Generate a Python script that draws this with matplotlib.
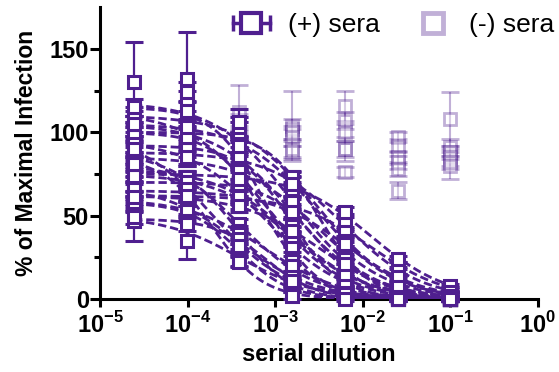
import numpy as np
import matplotlib.pyplot as plt
from matplotlib.lines import Line2D
from matplotlib.legend_handler import HandlerLine2D, HandlerTuple
from matplotlib.ticker import NullLocator

plt.rcParams['font.family'] = 'Liberation Sans'
plt.rcParams['mathtext.fontset'] = 'custom'
plt.rcParams['mathtext.rm'] = 'Liberation Sans:bold'
plt.rcParams['mathtext.bf'] = 'Liberation Sans:bold'

purple = '#4f1f8f'

# 4-fold serial dilutions
dilution = [1/40960, 1/10240, 1/2560, 1/640, 1/160, 1/40, 1/10]

# (+) sera: fitted curve parameters (top, log IC50, hill)
pos_top = [110, 88, 62, 75, 100, 105, 92, 85, 78, 70, 112, 100, 90, 80,
           68, 58, 50, 60, 48, 118, 115, 105, 95, 75, 65, 62, 100, 85]
pos_logic50 = [-2.51, -2.20, -1.90, -1.90, -2.51, -2.81, -2.81, -2.51, -2.81, -2.51,
               -3.11, -3.11, -3.41, -3.41, -3.41, -3.41, -3.41, -3.11, -3.11, -2.81,
               -3.11, -2.51, -3.11, -2.81, -2.20, -2.51, -3.71, -3.71]
pos_hill = [1, 1, 1, 1, 1.5, 1, 1.5, 1, 1, 1.5, 1, 1.5, 1, 1.5,
            1, 1.5, 1, 1, 1.5, 1, 1.5, 1, 1, 1, 1, 1, 1, 1.5]

# (+) sera: mean % infection at each dilution
pos_vals = [
    [110, 119, 100, 72, 38, 12, 3],
    [90, 85, 84, 70, 46, 17, 5],
    [60, 64, 58, 56, 40, 20, 6],
    [76, 73, 74, 66, 52, 24, 8],
    [101, 98, 103, 73, 27, 4, 1],
    [104, 101, 83, 53, 20, 6, 2],
    [93, 90, 82, 44, 11, 1, 0],
    [83, 84, 76, 57, 29, 10, 3],
    [78, 72, 63, 40, 15, 5, 1],
    [69, 71, 66, 51, 18, 3, 0],
    [108, 124, 77, 36, 13, 3, 1],
    [98, 97, 72, 27, 4, 1, 0],
    [86, 73, 45, 18, 5, 2, 0],
    [80, 70, 41, 9, 1, 0, 0],
    [65, 55, 33, 14, 4, 1, 0],
    [56, 52, 30, 6, 1, 0, 0],
    [47, 35, 23, 10, 3, 1, 0],
    [58, 54, 39, 20, 7, 2, 0],
    [49, 45, 36, 13, 2, 0, 0],
    [130, 113, 106, 58, 24, 7, 2],
    [115, 132, 86, 30, 5, 1, 0],
    [105, 103, 92, 69, 35, 12, 3],
    [93, 85, 62, 32, 11, 3, 1],
    [74, 70, 61, 38, 15, 4, 1],
    [66, 63, 61, 52, 33, 13, 4],
    [61, 60, 56, 41, 21, 7, 2],
    [90, 66, 32, 11, 3, 1, 0],
    [81, 62, 22, 2, 0, 0, 0],
]
pos_sd = [
    [5, 6, 6, 4, 4, 2, 1],
    [4, 5, 4, 4, 5, 2, 1],
    [4, 4, 4, 4, 3, 2, 1],
    [5, 4, 5, 4, 3, 2, 1],
    [5, 5, 6, 4, 3, 1, 1],
    [6, 5, 5, 4, 3, 1, 1],
    [5, 5, 4, 4, 3, 1, 1],
    [4, 4, 4, 4, 3, 2, 1],
    [4, 4, 4, 3, 3, 1, 1],
    [4, 4, 4, 3, 3, 1, 1],
    [5, 6, 5, 4, 3, 1, 1],
    [5, 5, 4, 4, 2, 1, 1],
    [5, 4, 3, 3, 2, 1, 1],
    [4, 4, 3, 3, 1, 1, 1],
    [4, 4, 3, 3, 2, 1, 1],
    [4, 4, 3, 2, 1, 1, 1],
    [12, 11, 3, 3, 2, 1, 1],
    [4, 4, 3, 3, 2, 1, 1],
    [4, 4, 3, 3, 1, 1, 1],
    [24, 6, 8, 4, 3, 1, 1],
    [5, 28, 5, 4, 2, 1, 1],
    [5, 5, 5, 4, 3, 2, 1],
    [5, 4, 4, 4, 3, 1, 1],
    [4, 4, 4, 3, 3, 1, 1],
    [4, 4, 4, 4, 3, 2, 1],
    [4, 4, 4, 3, 3, 1, 1],
    [5, 4, 3, 3, 2, 1, 1],
    [4, 4, 3, 2, 1, 1, 1],
]

# (-) sera: only measured from 1/2560 onwards
neg_dilution = dilution[2:]
neg_vals = [
    [112, 104, 116, 97, 108],
    [106, 102, 107, 92, 91],
    [100, 100, 100, 85, 88],
    [104, 88, 90, 82, 85],
    [98, 97, 90, 78, 82],
    [102, 90, 76, 65, 80],
]
neg_sd = [
    [16, 21, 9, 3, 16],
    [5, 6, 5, 4, 5],
    [4, 4, 5, 4, 4],
    [5, 4, 7, 4, 5],
    [4, 5, 5, 4, 4],
    [4, 5, 3, 5, 8],
]

fig = plt.figure(figsize=(5.59, 3.72), dpi=100)
ax = fig.add_axes([0.179, 0.196, 0.783, 0.785])

for vals, sd in zip(neg_vals, neg_sd):
    ax.errorbar(neg_dilution, vals, yerr=sd, fmt='s', ms=8.5, mfc='white',
                mec=purple, mew=2, ecolor=purple, elinewidth=1.5,
                capsize=6.5, capthick=1.5, alpha=0.35, clip_on=False, zorder=2)

xs = np.logspace(np.log10(dilution[0]), np.log10(dilution[-1]), 200)
for top, lic, h, vals, sd in zip(pos_top, pos_logic50, pos_hill, pos_vals, pos_sd):
    ax.plot(xs, top / (1 + (xs / 10**lic)**h), color=purple, lw=2,
            dashes=(3, 1.4), zorder=3)
    ax.errorbar(dilution, vals, yerr=sd, fmt='s', ms=9, mfc='white',
                mec=purple, mew=2.2, ecolor=purple, elinewidth=1.6,
                capsize=6.5, capthick=1.6, clip_on=False, zorder=4)

ax.set_xscale('log')
ax.set_xlim(1e-5, 1)
ax.set_ylim(0, 175)
ax.set_xticks([1e-5, 1e-4, 1e-3, 1e-2, 1e-1, 1])
ax.set_xticklabels([r'$10^{-5}$', r'$10^{-4}$', r'$10^{-3}$', r'$10^{-2}$',
                    r'$10^{-1}$', r'$10^{0}$'])
ax.xaxis.set_minor_locator(NullLocator())
ax.set_yticks([0, 50, 100, 150])
ax.set_yticks([25, 75, 125], minor=True)

for side in ['top', 'right']:
    ax.spines[side].set_visible(False)
for side in ['left', 'bottom']:
    ax.spines[side].set_linewidth(2.2)

ax.tick_params(axis='both', which='major', width=2.2, length=7, labelsize=17)
ax.tick_params(axis='y', which='major', pad=1)
ax.tick_params(axis='x', which='major', length=6, pad=3)
ax.tick_params(axis='y', which='minor', width=2.2, length=4)
for lab in ax.get_yticklabels():
    lab.set_fontweight('bold')

ax.set_xlabel('serial dilution', fontsize=17, fontweight='bold', labelpad=4)
ax.set_ylabel('% of Maximal Infection', fontsize=16.5, fontweight='bold', labelpad=8)

pos_line = Line2D([], [], color=purple, lw=2.5, marker='s', ms=15,
                  mfc='white', mew=3)
pos_caps = Line2D([], [], color=purple, lw=0, marker='|', ms=11, mew=2.5)
neg_h = Line2D([], [], color=purple, alpha=0.35, lw=0, marker='s', ms=15,
               mfc='white', mew=3.5)
ax.legend([(pos_caps, pos_line), neg_h], ['(+) sera', '(-) sera'],
          handler_map={pos_caps: HandlerLine2D(numpoints=2, marker_pad=0),
                       tuple: HandlerTuple(ndivide=1)},
          loc='center left', bbox_to_anchor=(233 / 559, 1 - 25 / 372),
          bbox_transform=fig.transFigure, frameon=False, ncol=2, fontsize=19,
          handlelength=1.4, handletextpad=0.68, columnspacing=1.3,
          borderpad=0, borderaxespad=0)

fig.savefig('out.png', dpi=100)
